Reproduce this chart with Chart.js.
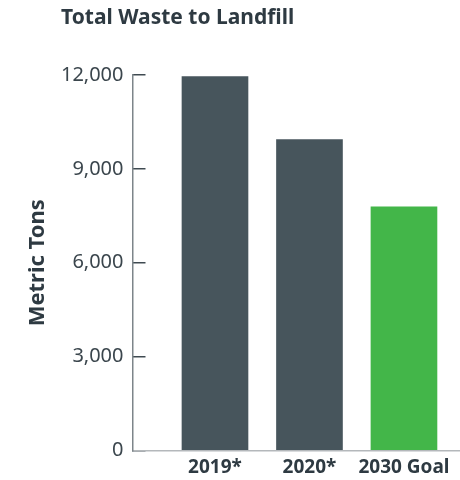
<!DOCTYPE html>
<html>
<head>
<meta charset="utf-8">
<script src="https://cdn.jsdelivr.net/npm/chart.js@4"></script>
<style>
  html, body { margin: 0; padding: 0; background: #ffffff; }
  #wrap { position: relative; width: 460px; height: 480px; }
  #title { position: absolute; left: 61px; top: 6px; font: bold 21px/21px "Noto Sans", sans-serif; color: #2e3a42; white-space: nowrap; }
  canvas { position: absolute; left: 0; top: 0; }
</style>
</head>
<body>
<div id="wrap">
  <canvas id="c" width="460" height="480"></canvas>
  <div id="title">Total Waste to Landfill</div>
</div>
<script>
const categories = ["2019*", "2020*", "2030 Goal"];
const wasteTons = [11950, 9940, 7790];
const barColors = ["#47555c", "#47555c", "#43b649"];
const yTicks = [0, 3000, 6000, 9000, 12000];
const yAxisTitle = "Metric Tons";

const points = categories.map((c, i) => ({ x: i, y: wasteTons[i] }));

new Chart(document.getElementById("c"), {
  type: "bar",
  data: {
    datasets: [{
      data: points,
      backgroundColor: barColors,
      borderWidth: 0,
      barThickness: 66
    }]
  },
  options: {
    responsive: false,
    animation: false,
    devicePixelRatio: 1,
    layout: { padding: { top: 75, left: 0, right: 0, bottom: 0 } },
    plugins: { legend: { display: false }, tooltip: { enabled: false }, title: { display: false } },
    scales: {
      x: {
        type: "linear",
        offset: false,
        bounds: "data",
        min: -0.873,
        max: 2.593,
        afterBuildTicks: (s) => { s.ticks = categories.map((c, i) => ({ value: i })); },
        afterFit: (s) => { s.height = 29.5; s.paddingLeft = 0; s.paddingRight = 0; },
        grid: { display: true, offset: false, drawOnChartArea: false, drawTicks: false },
        border: { display: true, color: "#b4b8bb", width: 1.5 },
        ticks: {
          autoSkip: false,
          maxRotation: 0,
          padding: 6,
          color: "#2e3a42",
          font: { family: "Noto Sans", size: 19, weight: "bold" },
          callback: (v) => categories[v] !== undefined ? categories[v] : ""
        }
      },
      y: {
        min: yTicks[0],
        max: yTicks[yTicks.length - 1],
        afterBuildTicks: (s) => { s.ticks = yTicks.map(v => ({ value: v })); },
        afterFit: (s) => { s.width = 132.5; s.paddingTop = 0; s.paddingBottom = 0; },
        grid: { display: true, drawOnChartArea: false, drawTicks: true, tickLength: -13, color: "#3f4a51", lineWidth: 1.5 },
        border: { display: true, color: "#7d858a", width: 1.5 },
        ticks: {
          padding: 22,
          color: "#3b464d",
          font: { family: "Noto Sans", size: 20, weight: "normal" },
          callback: (v) => v.toLocaleString("en-US")
        },
        title: {
          display: true,
          text: yAxisTitle,
          color: "#2e3a42",
          font: { family: "Noto Sans", size: 22, weight: "bold" },
          padding: { top: 25, bottom: 0 }
        }
      }
    }
  }
});
</script>
</body>
</html>
